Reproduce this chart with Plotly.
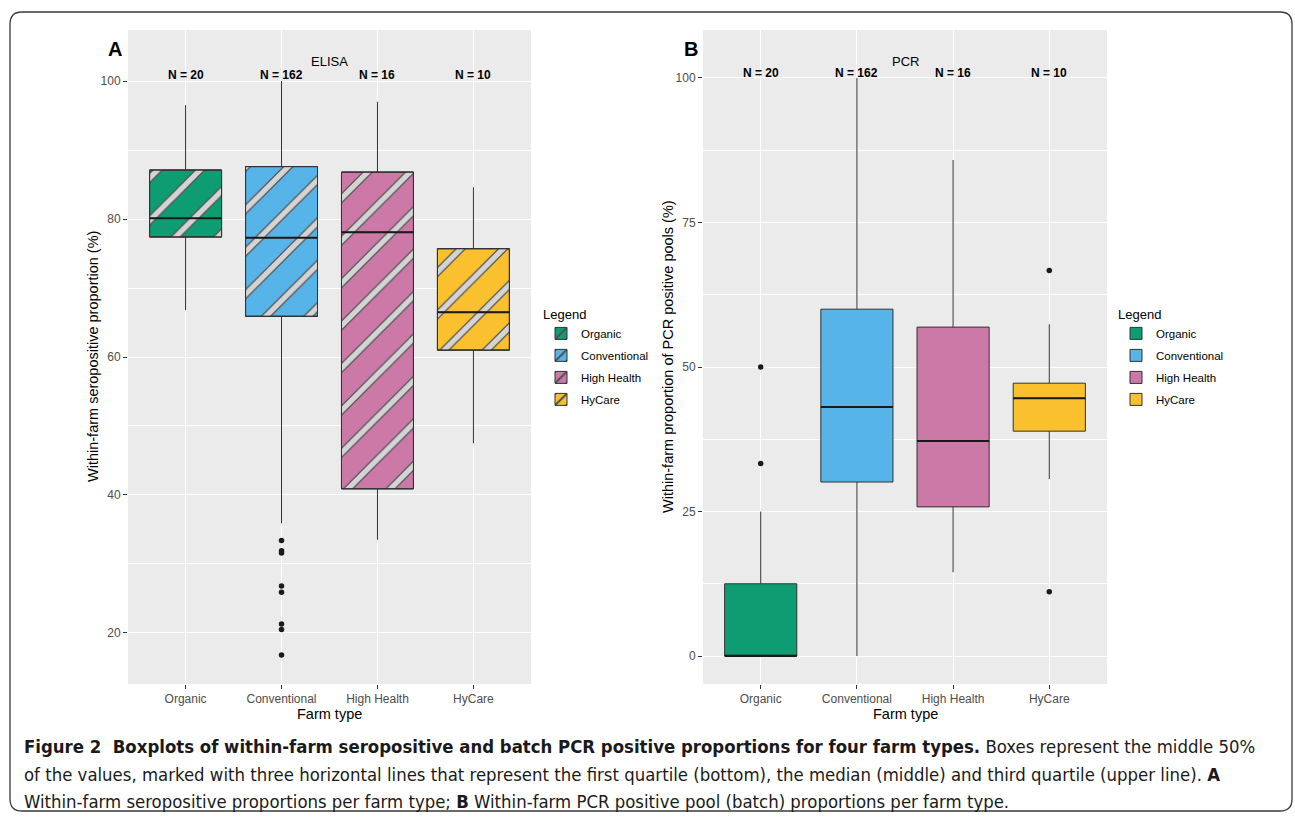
import plotly.graph_objects as go

# ---------------- data ----------------
categories = ["Organic", "Conventional", "High Health", "HyCare"]
n_farms = [20, 162, 16, 10]
colors = ["#0E9C72", "#56B4E9", "#CC79A7", "#FBC02D"]

# ELISA: within-farm seropositive proportion (%)
elisa_lower = [66.8, 35.9, 33.5, 47.5]
elisa_q1 = [77.4, 65.9, 40.9, 61.0]
elisa_median = [80.1, 77.3, 78.1, 66.5]
elisa_q3 = [87.1, 87.6, 86.8, 75.7]
elisa_upper = [96.5, 100.0, 97.0, 84.6]
elisa_outlier_group = ["Conventional"] * 8
elisa_outlier_values = [33.4, 31.9, 31.6, 26.8, 25.9, 21.3, 20.5, 16.8]

# PCR: within-farm proportion of PCR positive pools (%)
pcr_lower = [0.0, 0.0, 14.5, 30.6]
pcr_q1 = [0.0, 30.1, 25.8, 38.9]
pcr_median = [0.0, 43.1, 37.2, 44.6]
pcr_q3 = [12.5, 60.0, 56.9, 47.2]
pcr_upper = [25.0, 100.0, 85.8, 57.4]
pcr_outlier_group = ["Organic", "Organic", "HyCare", "HyCare"]
pcr_outlier_values = [50.0, 33.3, 66.7, 11.1]

elisa_ticks = [20, 40, 60, 80, 100]
elisa_minor = [30, 50, 70, 90]
pcr_ticks = [0, 25, 50, 75, 100]
pcr_minor = [12.5, 37.5, 62.5, 87.5]

# ---------------- layout helpers ----------------
W, H = 1295, 818
def fx(px):
    return px / W
def fy(py):
    return 1 - py / H

pos = list(range(1, len(categories) + 1))
BOX_W = 0.75
FONT = "Liberation Sans, Arial, sans-serif"
EDGE = "#333333"
WHISKER = "#444444"

fig = go.Figure()

def add_panel(xref, yref, lower, q1, med, q3, upper, og, ov, legend, hatched):
    for i, cat in enumerate(categories):
        if hatched:
            # patterned box body: dark stripe edges, then light stripe cores
            fig.add_trace(go.Bar(
                x=[pos[i]], y=[q3[i] - q1[i]], base=[q1[i]], width=BOX_W,
                xaxis=xref, yaxis=yref, name=cat, legend=legend, legendgroup=cat,
                marker=dict(color=colors[i], line=dict(color=EDGE, width=1),
                            pattern=dict(shape="/", fgcolor="#505050", bgcolor=colors[i],
                                         size=30, solidity=0.26, fillmode="replace")),
                showlegend=True, hoverinfo="skip"))
            fig.add_trace(go.Bar(
                x=[pos[i]], y=[q3[i] - q1[i]], base=[q1[i]], width=BOX_W,
                xaxis=xref, yaxis=yref, name=cat, legend=legend, legendgroup=cat,
                marker=dict(color="rgba(0,0,0,0)", line=dict(color=EDGE, width=1),
                            pattern=dict(shape="/", fgcolor="#d4d4d4", bgcolor="rgba(0,0,0,0)",
                                         size=30, solidity=0.18, fillmode="replace")),
                showlegend=False, hoverinfo="skip"))
            fill = "rgba(0,0,0,0)"
        else:
            fill = colors[i]
        fig.add_trace(go.Box(
            x=[pos[i]], q1=[q1[i]], median=[med[i]], q3=[q3[i]],
            lowerfence=[lower[i]], upperfence=[upper[i]],
            width=BOX_W, whiskerwidth=0, boxpoints=False,
            fillcolor=fill, line=dict(color=EDGE, width=1),
            xaxis=xref, yaxis=yref, name=cat, legend=legend, legendgroup=cat,
            showlegend=not hatched, hoverinfo="skip"))
        # thicker median line
        fig.add_trace(go.Scatter(
            x=[pos[i] - BOX_W / 2, pos[i] + BOX_W / 2], y=[med[i], med[i]],
            mode="lines", line=dict(color="#1a1a1a", width=2),
            xaxis=xref, yaxis=yref, showlegend=False, hoverinfo="skip"))
    # outliers
    fig.add_trace(go.Scatter(
        x=[pos[categories.index(g)] for g in og], y=ov, mode="markers",
        marker=dict(color="#1a1a1a", size=5.5),
        xaxis=xref, yaxis=yref, showlegend=False, hoverinfo="skip"))
    # sample sizes
    for i, n in enumerate(n_farms):
        fig.add_annotation(x=pos[i], y=100.9, xref=xref, yref=yref,
                           xanchor="center", yanchor="middle",
                           text=f"<b>N = {n}</b>", showarrow=False,
                           font=dict(size=12, color="black", family=FONT))

add_panel("x", "y", elisa_lower, elisa_q1, elisa_median, elisa_q3, elisa_upper,
          elisa_outlier_group, elisa_outlier_values, "legend", True)
add_panel("x2", "y2", pcr_lower, pcr_q1, pcr_median, pcr_q3, pcr_upper,
          pcr_outlier_group, pcr_outlier_values, "legend2", False)

axis_common = dict(showgrid=True, gridcolor="white", gridwidth=1.3, zeroline=False,
                   ticks="outside", ticklen=4, tickcolor=EDGE, tickwidth=1,
                   tickfont=dict(size=12, color="#4D4D4D", family=FONT),
                   showline=False, fixedrange=True)

legend_common = dict(xanchor="left", yanchor="top",
                     title=dict(text="Legend", font=dict(size=13, color="black")),
                     font=dict(size=11.5, color="black"), bgcolor="white",
                     itemclick=False, tracegroupgap=3)

fig.update_layout(
    width=W, height=H, margin=dict(l=0, r=0, t=0, b=0),
    paper_bgcolor="white", plot_bgcolor="#EBEBEB",
    barmode="overlay", boxmode="overlay",
    font=dict(family=FONT),
    xaxis=dict(domain=[fx(128), fx(531)], range=[0.4, 4.6], tickvals=pos,
               ticktext=categories, anchor="y", **axis_common),
    yaxis=dict(domain=[fy(684), fy(30)], range=[12.6, 107.4], tickvals=elisa_ticks,
               anchor="x",
               minor=dict(tickvals=elisa_minor, showgrid=True, gridcolor="white",
                          gridwidth=0.7, ticks=""),
               **axis_common),
    xaxis2=dict(domain=[fx(703), fx(1107)], range=[0.4, 4.6], tickvals=pos,
                ticktext=categories, anchor="y2", **axis_common),
    yaxis2=dict(domain=[fy(684), fy(30)], range=[-4.84, 108.3], tickvals=pcr_ticks,
                anchor="x2",
                minor=dict(tickvals=pcr_minor, showgrid=True, gridcolor="white",
                           gridwidth=0.7, ticks=""),
                **axis_common),
    legend=dict(x=fx(541), y=fy(302), **legend_common),
    legend2=dict(x=fx(1116), y=fy(302), **legend_common),
    showlegend=True,
)

def label(text, x, y, size, angle=0, color="black", family=FONT, xanchor="center"):
    fig.add_annotation(x=fx(x), y=fy(y), xref="paper", yref="paper",
                       xanchor=xanchor, yanchor="middle", text=text, textangle=angle,
                       showarrow=False, font=dict(size=size, color=color, family=family))

# panel tags and titles
label("<b>A</b>", 115, 49, 20)
label("<b>B</b>", 691, 49, 20)
label("ELISA", 329, 61, 13)
label("PCR", 905, 61, 13)

# axis titles
label("Farm type", 329.5, 714, 14.5)
label("Farm type", 905, 714, 14.5)
label("Within-farm seropositive proportion (%)", 93, 357, 14.5, angle=-90)
label("Within-farm proportion of PCR positive pools (%)", 668, 357, 14.5, angle=-90)

# caption
CAP_FONT = "Liberation Sans Narrow, DejaVu Sans Condensed, Liberation Sans, sans-serif"
caption_lines = [
    "<b>Figure 2  Boxplots of within-farm seropositive and batch PCR positive proportions "
    "for four farm types.</b> Boxes represent the middle 50%",
    "of the values, marked with three horizontal lines that represent the first quartile "
    "(bottom), the median (middle) and third quartile (upper line). <b>A</b>",
    "Within-farm seropositive proportions per farm type; <b>B</b> Within-farm PCR positive "
    "pool (batch) proportions per farm type.",
]
for line, y in zip(caption_lines, [746, 774, 801]):
    label(line, 22, y, 18.4, color="#1a1a1a", family=CAP_FONT, xanchor="left")

# rounded outer frame
x0, x1, y0, y1, r = 10, 1292, 12, 811, 12
path = (f"M {fx(x0 + r)} {fy(y0)} L {fx(x1 - r)} {fy(y0)} Q {fx(x1)} {fy(y0)} {fx(x1)} {fy(y0 + r)} "
        f"L {fx(x1)} {fy(y1 - r)} Q {fx(x1)} {fy(y1)} {fx(x1 - r)} {fy(y1)} "
        f"L {fx(x0 + r)} {fy(y1)} Q {fx(x0)} {fy(y1)} {fx(x0)} {fy(y1 - r)} "
        f"L {fx(x0)} {fy(y0 + r)} Q {fx(x0)} {fy(y0)} {fx(x0 + r)} {fy(y0)} Z")
fig.add_shape(type="path", path=path, xref="paper", yref="paper",
              line=dict(color="#3a3a3a", width=1.3), layer="above")

fig.write_html("out.html")
